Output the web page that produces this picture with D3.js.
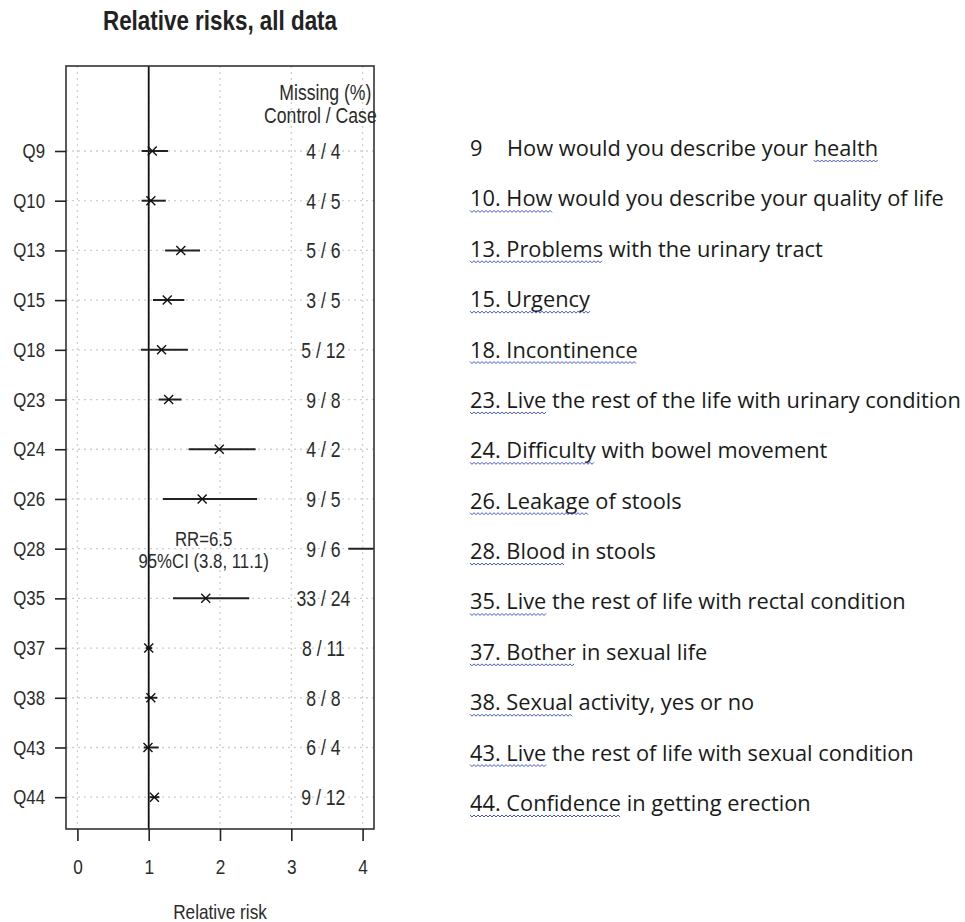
<!DOCTYPE html>
<html>
<head>
<meta charset="utf-8">
<script src="https://cdn.jsdelivr.net/npm/d3@7"></script>
<style>
  body { margin: 0; background: #fff; }
  svg { display: block; }
</style>
</head>
<body>
<div id="chart"></div>
<script>
// values
const questions = ["Q9", "Q10", "Q13", "Q15", "Q18", "Q23", "Q24", "Q26", "Q28", "Q35", "Q37", "Q38", "Q43", "Q44"];
const rr    = [1.05, 1.03, 1.45, 1.26, 1.18, 1.28, 1.99, 1.75, 6.5, 1.80, 1.00, 1.03, 0.99, 1.08];
const lower = [0.90, 0.90, 1.23, 1.06, 0.89, 1.14, 1.56, 1.20, 3.8, 1.34, 0.96, 0.95, 0.93, 1.01];
const upper = [1.27, 1.24, 1.72, 1.50, 1.55, 1.46, 2.50, 2.52, 11.1, 2.41, 1.05, 1.12, 1.14, 1.15];
const missing = ["4 / 4", "4 / 5", "5 / 6", "3 / 5", "5 / 12", "9 / 8", "4 / 2", "9 / 5", "9 / 6", "33 / 24", "8 / 11", "8 / 8", "6 / 4", "9 / 12"];
const xTicks = [0, 1, 2, 3, 4];

const descNums = ["9", "10.", "13.", "15.", "18.", "23.", "24.", "26.", "28.", "35.", "37.", "38.", "43.", "44."];
const descTexts = [
  "How would you describe your health",
  "How would you describe your quality of life",
  "Problems with the urinary tract",
  "Urgency",
  "Incontinence",
  "Live the rest of the life with urinary condition",
  "Difficulty with bowel movement",
  "Leakage of stools",
  "Blood in stools",
  "Live the rest of life with rectal condition",
  "Bother in sexual life",
  "Sexual activity, yes or no",
  "Live the rest of life with sexual condition",
  "Confidence in getting erection"
];
// words with the spell-check squiggle
const flagged = ["health", "10. How", "13. Problems", "15. Urgency", "18. Incontinence", "23. Live",
  "24. Difficulty", "26. Leakage", "28. Blood", "35. Live", "37. Bother", "38. Sexual", "43. Live", "44. Confidence"];

const width = 965, height = 922;
const plotFont = "'Liberation Sans', Arial, sans-serif";
const narrow = 0.82;   // the plot text is a condensed face
const ink = "#2b2b2b";

const svg = d3.select("#chart").append("svg")
    .attr("width", width)
    .attr("height", height);

svg.append("rect").attr("width", width).attr("height", height).attr("fill", "#fff");

// condensed text helper
function label(parent, tx, ty, str, fs, anchor) {
  return parent.append("g")
      .attr("transform", `translate(${tx},${ty}) scale(${narrow},1)`)
    .append("text")
      .attr("text-anchor", anchor || "middle")
      .attr("font-family", plotFont)
      .attr("font-size", fs)
      .attr("fill", ink)
      .text(str);
}

// scales: box spans the padded domain
const x = d3.scaleLinear().domain([-0.16, 4.16]).range([66, 374]);
const y = d3.scaleLinear().domain([-1.71, 13.64]).range([66, 829]);
const [boxL, boxR] = x.range();
const [boxT, boxB] = y.range();

svg.append("clipPath").attr("id", "box")
  .append("rect")
    .attr("x", boxL).attr("y", boxT)
    .attr("width", boxR - boxL).attr("height", boxB - boxT);

// title
svg.append("text")
    .attr("x", 220).attr("y", 30)
    .attr("text-anchor", "middle")
    .attr("font-family", plotFont)
    .attr("font-weight", "bold")
    .attr("font-size", 27)
    .attr("textLength", 234)
    .attr("lengthAdjust", "spacingAndGlyphs")
    .attr("fill", "#222")
    .text("Relative risks, all data");

// grid
const grid = svg.append("g").attr("stroke", "#cfcfcf").attr("stroke-width", 1.3).attr("stroke-dasharray", "2,4");
grid.selectAll(".vg").data(xTicks).enter().append("line")
    .attr("x1", d => x(d)).attr("x2", d => x(d))
    .attr("y1", boxT).attr("y2", boxB);
grid.selectAll(".hg").data(questions).enter().append("line")
    .attr("x1", boxL).attr("x2", boxR)
    .attr("y1", (d, i) => y(i)).attr("y2", (d, i) => y(i));

// reference line at RR = 1
svg.append("line")
    .attr("x1", x(1)).attr("x2", x(1))
    .attr("y1", boxT).attr("y2", boxB)
    .attr("stroke", "#111").attr("stroke-width", 1.8);

// confidence intervals
const marks = svg.append("g").attr("clip-path", "url(#box)");
marks.selectAll(".ci").data(questions).enter().append("line")
    .attr("x1", (d, i) => x(lower[i]))
    .attr("x2", (d, i) => x(upper[i]))
    .attr("y1", (d, i) => y(i)).attr("y2", (d, i) => y(i))
    .attr("stroke", "#222").attr("stroke-width", 2);

// point estimates (x markers)
const s = 4.5;
marks.selectAll(".pt").data(questions).enter().append("path")
    .attr("d", (d, i) => {
      const cx = x(rr[i]), cy = y(i);
      return `M${cx - s},${cy - s}L${cx + s},${cy + s}M${cx - s},${cy + s}L${cx + s},${cy - s}`;
    })
    .attr("stroke", "#111").attr("stroke-width", 1.4).attr("fill", "none");

// box
svg.append("rect")
    .attr("x", boxL).attr("y", boxT)
    .attr("width", boxR - boxL).attr("height", boxB - boxT)
    .attr("fill", "none").attr("stroke", "#333").attr("stroke-width", 1.6);

// axes
const xAxis = svg.append("g")
    .attr("transform", `translate(0,${boxB})`)
    .call(d3.axisBottom(x).tickValues(xTicks).tickSize(12).tickPadding(18).tickFormat(d3.format("d")));
xAxis.select(".domain").remove();
xAxis.selectAll("line").attr("stroke", "#222").attr("stroke-width", 1.6);
xAxis.selectAll("text")
    .attr("font-family", plotFont).attr("font-size", 21).attr("fill", ink)
    .attr("transform", `scale(${narrow},1)`);

const yAxis = svg.append("g")
    .attr("transform", `translate(${boxL},0)`)
    .call(d3.axisLeft(y).tickValues(d3.range(questions.length)).tickSize(11).tickPadding(10)
      .tickFormat(i => questions[i]));
yAxis.select(".domain").remove();
yAxis.selectAll("line").attr("stroke", "#222").attr("stroke-width", 1.6);
yAxis.selectAll("text")
    .attr("font-family", plotFont).attr("font-size", 20.5).attr("fill", ink)
    .attr("x", -21 / narrow)
    .attr("transform", `scale(${narrow},1)`);

label(svg, 220, 919, "Relative risk", 21);

// missing column
const mx = x(3.45);
label(svg, mx + 2, 100, "Missing (%)", 21.5);
label(svg, mx - 3, 123, "Control / Case", 21.5);
missing.forEach((m, i) => label(svg, mx, y(i) + 8, m, 21.5));

// off-scale note for Q28
const offRow = rr.findIndex(v => v > 4);
label(svg, x(1.77), y(offRow) - 3, `RR=${rr[offRow]}`, 20.5);
label(svg, x(1.77), y(offRow) + 19, `95%CI (${lower[offRow]}, ${upper[offRow]})`, 20.5);

// question descriptions on the right
const yText = d3.scaleLinear().domain([0, questions.length - 1]).range([156, 811]);
const descFont = "'Open Sans', sans-serif";
const desc = svg.append("g").attr("font-family", descFont).attr("fill", "#1a1a1a");

const lines = desc.selectAll(".desc").data(descTexts).enter().append("text")
    .attr("x", 470).attr("y", (d, i) => yText(i))
    .attr("font-size", 18);
lines.append("tspan").text((d, i) => descNums[i]);
lines.append("tspan")
    .attr("x", (d, i) => i === 0 ? 507 : null)
    .text((d, i) => i === 0 ? d : " " + d);

// fit the Calibri-like width of the original
const refW = lines.nodes()[1].getComputedTextLength();
const fs = 18 * 474 / refW;
lines.attr("font-size", fs);

// squiggles
lines.each(function (d, i) {
  const node = this;
  const full = node.textContent;
  const start = full.indexOf(flagged[i]);
  if (start < 0) return;
  const end = start + flagged[i].length - 1;
  const x0 = node.getStartPositionOfChar(start).x;
  const x1 = node.getEndPositionOfChar(end).x;
  const by = yText(i) + 4;
  let p = `M${x0},${by}`;
  let k = 0;
  for (let xx = x0 + 2; xx <= x1 + 0.1; xx += 2) {
    p += `L${xx},${by + (k % 2 === 0 ? 2 : 0)}`;
    k++;
  }
  desc.append("path").attr("d", p)
      .attr("fill", "none").attr("stroke", "#3f55d6").attr("stroke-width", 1);
});
</script>
</body>
</html>
